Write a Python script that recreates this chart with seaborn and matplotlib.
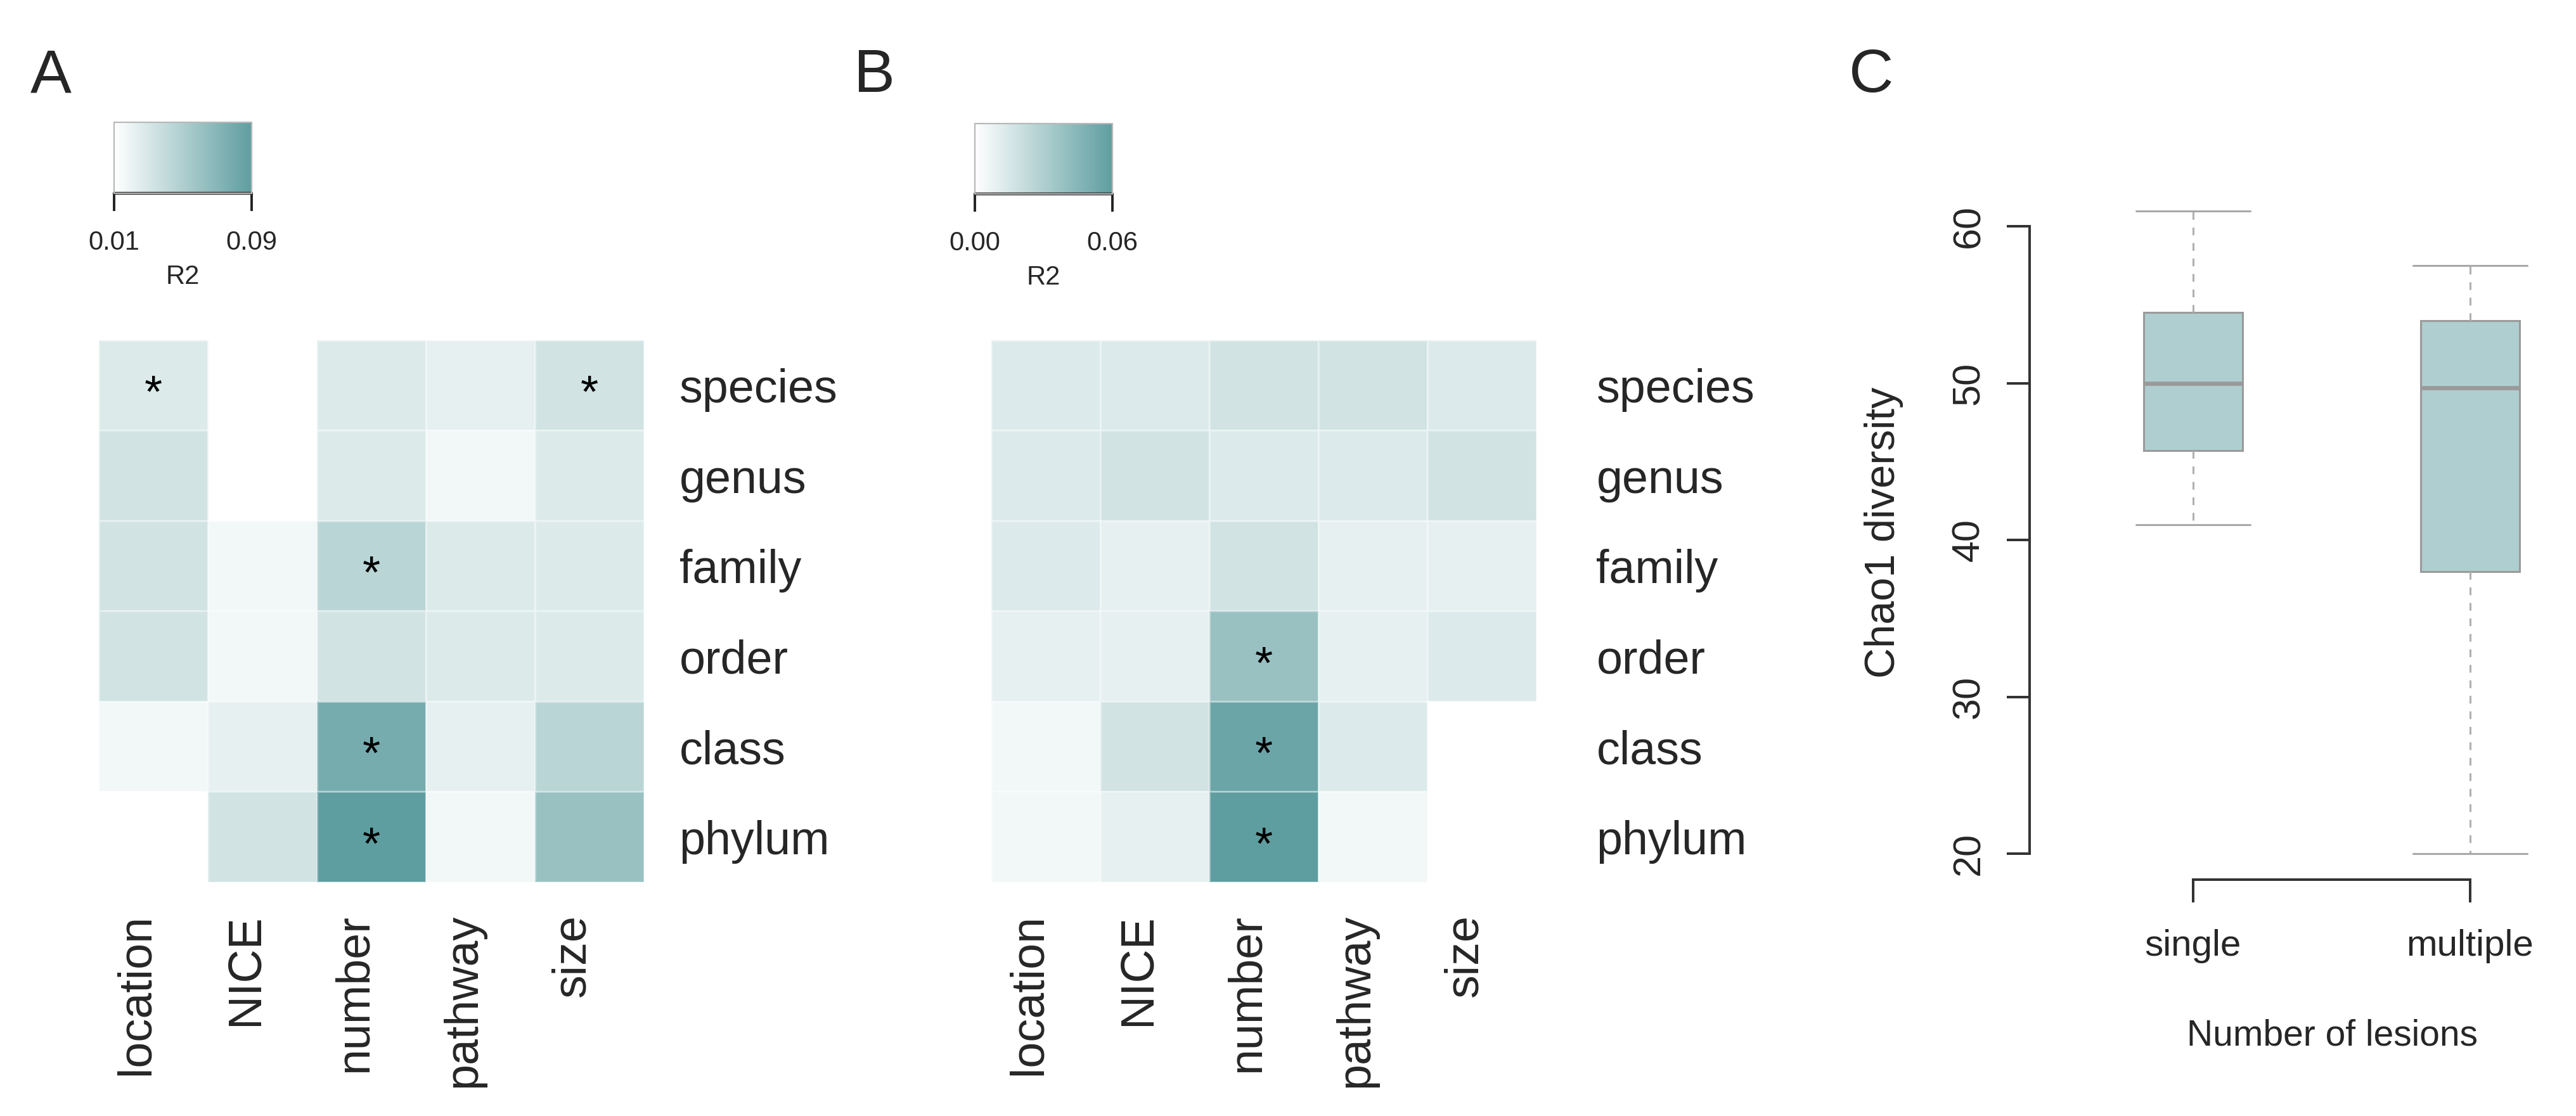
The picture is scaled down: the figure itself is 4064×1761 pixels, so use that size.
import numpy as np
import pandas as pd
import matplotlib
matplotlib.use('Agg')
import matplotlib.pyplot as plt
import matplotlib.transforms as mtransforms
from matplotlib.colors import LinearSegmentedColormap
import seaborn as sns

# Data
taxa = ['species', 'genus', 'family', 'order', 'class', 'phylum']
factors = ['location', 'NICE', 'number', 'pathway', 'size']

# panel A: R2 per taxon level / clinical factor (NaN = not tested)
r2_a = [
    [0.0276, np.nan, 0.0276, 0.0225, 0.0332],
    [0.0332, np.nan, 0.0276, 0.0164, 0.0276],
    [0.0332, 0.0164, 0.0444, 0.0276, 0.0276],
    [0.0332, 0.0164, 0.0332, 0.0276, 0.0276],
    [0.0164, 0.0225, 0.0780, 0.0225, 0.0444],
    [0.0100, 0.0332, 0.0900, 0.0164, 0.0612],
]
sig_a = [
    ['*', '', '', '', '*'],
    ['', '', '', '', ''],
    ['', '', '*', '', ''],
    ['', '', '', '', ''],
    ['', '', '*', '', ''],
    ['', '', '*', '', ''],
]
r2_b = [
    [0.0130, 0.0130, 0.0174, 0.0174, 0.0130],
    [0.0130, 0.0174, 0.0130, 0.0130, 0.0174],
    [0.0130, 0.0094, 0.0174, 0.0094, 0.0094],
    [0.0094, 0.0094, 0.0384, 0.0094, 0.0130],
    [0.0048, 0.0174, 0.0555, 0.0130, 0.0000],
    [0.0048, 0.0094, 0.0600, 0.0048, 0.0000],
]
sig_b = [
    ['', '', '', '', ''],
    ['', '', '', '', ''],
    ['', '', '', '', ''],
    ['', '', '*', '', ''],
    ['', '', '*', '', ''],
    ['', '', '*', '', ''],
]
range_a = (0.01, 0.09)
range_b = (0.00, 0.06)
ticklabels_a = ['0.01', '0.09']
ticklabels_b = ['0.00', '0.06']

groups = ['single', 'multiple']
# five-number summaries (min, Q1, median, Q3, max)
chao1_single = [41.0, 45.7, 50.0, 54.5, 61.0]
chao1_multiple = [20.0, 38.0, 49.7, 54.0, 57.5]

# Style
sns.set_style('white')
plt.rcParams['font.family'] = ['Liberation Sans', 'DejaVu Sans']

W, H, DPI = 4064, 1761, 200
fig = plt.figure(figsize=(W / DPI, H / DPI), dpi=DPI)


def px_axes(x0, y0, x1, y1):
    return fig.add_axes([x0 / W, 1 - y1 / H, (x1 - x0) / W, (y1 - y0) / H])


teal = LinearSegmentedColormap.from_list('teal', ['#ffffff', '#5f9ea0'])


def draw_heat(ax, cax, values, stars, vrange, tlabels, row_pad):
    df = pd.DataFrame(values, index=taxa, columns=factors)
    sns.heatmap(df, ax=ax, cmap=teal, vmin=vrange[0], vmax=vrange[1],
                cbar_ax=cax, cbar_kws={'orientation': 'horizontal'},
                annot=np.array(stars), fmt='',
                annot_kws={'size': 26, 'color': 'black'},
                linewidths=1.0, linecolor=(1, 1, 1, 0.4))
    # asterisks sit high in the glyph box, pull them to the cell middle
    for t in ax.texts:
        t.set_va('center_baseline')
        x, y = t.get_position()
        t.set_position((x, y + 0.06))

    ax.yaxis.tick_right()
    ax.tick_params(axis='y', length=0, pad=row_pad, labelsize=26.5, labelrotation=0)
    ax.tick_params(axis='x', length=0, pad=18, labelsize=26.5, labelrotation=90)
    shift = mtransforms.ScaledTranslation(-27 / DPI, 0, fig.dpi_scale_trans)
    for lbl in ax.get_xticklabels():
        lbl.set_transform(lbl.get_transform() + shift)
    ax.set_xlabel('')
    ax.set_ylabel('')

    cbar = ax.collections[0].colorbar
    cbar.set_ticks(list(vrange))
    cbar.set_ticklabels(tlabels)
    cbar.outline.set_edgecolor('#b8b8b8')
    cbar.outline.set_linewidth(0.8)
    cax.tick_params(axis='x', bottom=True, length=10, width=1.4, direction='out',
                    labelsize=15, pad=11, color='#222222')
    cax.set_xlabel('R2', fontsize=15, labelpad=5)
    cax.axhline(0, color='#222222', lw=1.6, clip_on=False)


# Panel A
ax_a = px_axes(156, 537, 1016, 1392)
cax_a = px_axes(180, 193, 397, 305)
draw_heat(ax_a, cax_a, r2_a, sig_a, range_a, ticklabels_a, 20)

# Panel B
ax_b = px_axes(1564, 537, 2424, 1392)
cax_b = px_axes(1538, 195, 1755, 306)
draw_heat(ax_b, cax_b, r2_b, sig_b, range_b, ticklabels_b, 34)

# Panel C: boxplot
ax_c = px_axes(3202, 292, 4064, 1388)
box_df = pd.DataFrame({
    'lesions': ['single'] * len(chao1_single) + ['multiple'] * len(chao1_multiple),
    'chao1': chao1_single + chao1_multiple,
})
line_grey = '#9a9a9a'
sns.boxplot(data=box_df, x='lesions', y='chao1', order=groups, ax=ax_c,
            width=0.357, color='#afcecf', saturation=1, linecolor=line_grey,
            linewidth=1.1, fliersize=0, whis=1.5,
            whiskerprops={'linestyle': (0, (4, 4)), 'color': '#b0b0b0'},
            medianprops={'linewidth': 2.4, 'color': line_grey})
# caps a bit wider than the boxes
for i, vals in enumerate([chao1_single, chao1_multiple]):
    for line in ax_c.lines:
        x, y = line.get_xdata(), line.get_ydata()
        if len(x) == 2 and y[0] == y[1] and y[0] in (min(vals), max(vals)) \
                and abs(np.mean(x) - i) < 0.3:
            line.set_xdata([i - 0.205, i + 0.205])
            line.set_color('#a8a8a8')
            line.set_linestyle('-')

ax_c.set_xlim(-0.590, 1.382)
ax_c.set_ylim(18.36, 62.64)
ax_c.set_yticks([20, 30, 40, 50, 60])
for side in ['top', 'right']:
    ax_c.spines[side].set_visible(False)
for side in ['left', 'bottom']:
    ax_c.spines[side].set_color('#333333')
    ax_c.spines[side].set_linewidth(1.44)
ax_c.spines['left'].set_bounds(20, 60)
ax_c.spines['bottom'].set_bounds(0, 1)
ax_c.tick_params(axis='both', bottom=True, left=True, length=13, width=1.44,
                 color='#333333', direction='out')
ax_c.tick_params(axis='y', labelrotation=90, pad=11)
ax_c.tick_params(axis='x', pad=15)
for lbl in ax_c.get_yticklabels():
    lbl.set_family(['Liberation Sans Narrow', 'Liberation Sans'])
    lbl.set_fontsize(22)
    lbl.set_va('center')
for lbl in ax_c.get_xticklabels():
    lbl.set_fontsize(21)
ax_c.set_ylabel('Chao1 diversity', fontsize=24, labelpad=27,
                family=['Liberation Sans Narrow', 'Liberation Sans'])
ax_c.set_xlabel('Number of lesions', fontsize=20.5)
ax_c.xaxis.set_label_coords((3679 - 3202) / 862, -0.2)

# Panel letters
for letter, x in [('A', 80), ('B', 1379), ('C', 2952)]:
    fig.text(x / W, 1 - 120 / H, letter, fontsize=35, ha='center', va='center')

fig.savefig('out.png', dpi=DPI)
